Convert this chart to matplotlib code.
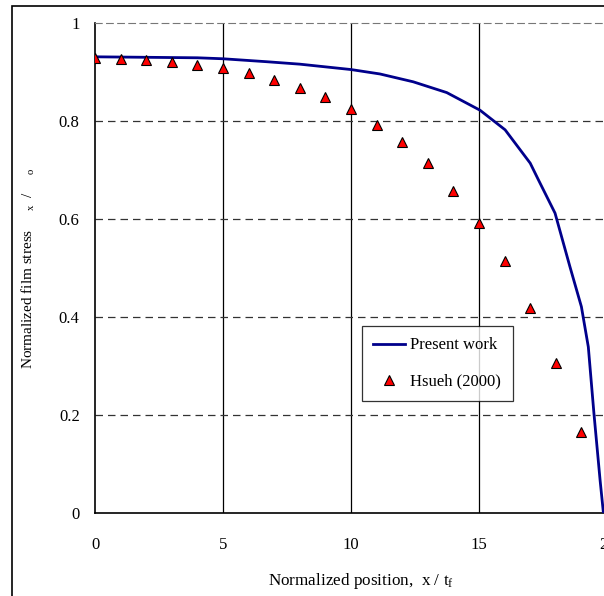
import matplotlib.pyplot as plt
from matplotlib.patches import Rectangle

plt.rcParams['font.family'] = ['Liberation Serif', 'DejaVu Serif']
plt.rcParams['mathtext.fontset'] = 'custom'
plt.rcParams['mathtext.rm'] = 'Liberation Serif'
plt.rcParams['mathtext.it'] = 'Liberation Serif'

# Present work (solid curve)
x_present = [0, 2, 4, 5, 6.7, 8, 10, 11.13, 12.43, 13.74, 15.04, 16.02,
             17.0, 17.32, 17.97, 18.55, 19.0, 19.27, 19.49, 19.73, 19.86]
y_present = [0.931, 0.930, 0.929, 0.927, 0.921, 0.916, 0.905, 0.896, 0.880,
             0.858, 0.822, 0.782, 0.714, 0.680, 0.612, 0.503, 0.421, 0.339,
             0.203, 0.067, 0.0]

# Hsueh (2000) (triangles)
x_hsueh = list(range(20))
y_hsueh = [0.928, 0.926, 0.924, 0.921, 0.915, 0.909, 0.898, 0.884, 0.867,
           0.849, 0.824, 0.791, 0.757, 0.714, 0.658, 0.591, 0.515, 0.419,
           0.307, 0.166]

x_ticks = [0, 5, 10, 15, 20]
y_ticks = [0, 0.2, 0.4, 0.6, 0.8, 1]
y_ticklabels = ['0', '0.2', '0.4', '0.6', '0.8', '1']

fig = plt.figure(figsize=(6.04, 5.96), dpi=100)

# outer frame
fig.patches.append(Rectangle((12 / 604, -0.05), 1.2, 1 - 6 / 596 + 0.05,
                             transform=fig.transFigure, fill=False,
                             edgecolor='black', linewidth=1.2))

ax = fig.add_axes([95 / 604, 1 - 513 / 596, 512 / 604, 490 / 596])

for xv in [5, 10, 15]:
    ax.axvline(xv, color='black', linewidth=0.9, zorder=1)
for yv in [0.2, 0.4, 0.6, 0.8]:
    ax.axhline(yv, color='#333333', linewidth=0.9, dashes=(6, 4), zorder=1)

ax.plot(x_present, y_present, color='#00008B', linewidth=2,
        label='Present work', zorder=3)
ax.plot(x_hsueh, y_hsueh, linestyle='none', marker='^', markersize=6.5,
        markerfacecolor='red', markeredgecolor='black', markeredgewidth=0.8,
        label='Hsueh (2000)', zorder=4)

ax.set_xlim(0, 20)
ax.set_ylim(0, 1)
ax.set_xticks(x_ticks)
ax.set_yticks(y_ticks)
ax.set_yticklabels(y_ticklabels)
ax.tick_params(length=0, labelsize=12)
ax.tick_params(axis='y', pad=11)
ax.tick_params(axis='x', pad=17)

ax.spines['top'].set_linestyle((0, (6, 4)))
ax.spines['top'].set_color('#777777')
ax.spines['right'].set_visible(False)
for s in ['left', 'bottom']:
    ax.spines[s].set_linewidth(1.2)

ax.set_xlabel('Normalized position,  x / t$_{\\mathrm{f}}$', fontsize=12.3)
ax.set_ylabel('Normalized film stress     ${}_{x}$  /     ${}_{o}$',
              fontsize=11)
ax.xaxis.set_label_coords(0.52, -0.118)
ax.yaxis.set_label_coords(-0.113, 0.5)

leg = ax.legend(loc='upper left', bbox_to_anchor=(0.521, 0.382),
                borderaxespad=0, fontsize=12, frameon=True, fancybox=False,
                edgecolor='black', handlelength=1.9, handletextpad=0.3,
                labelspacing=1.2, borderpad=0.7)
leg.get_frame().set_linewidth(0.9)

fig.savefig('out.png', dpi=100)
